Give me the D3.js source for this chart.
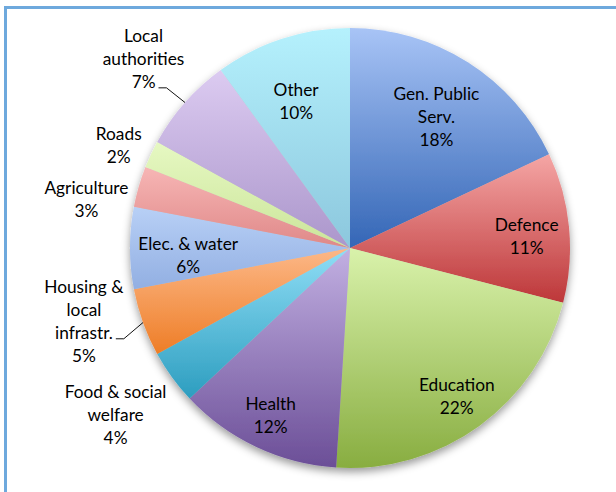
<!DOCTYPE html>
<html>
<head>
<meta charset="utf-8">
<script src="https://cdn.jsdelivr.net/npm/d3@7"></script>
<style>
  html, body { margin: 0; padding: 0; background: #ffffff; }
  svg { display: block; }
  text { font-family: Lato, "Open Sans", sans-serif; font-size: 17.3px; fill: #000000; }
</style>
</head>
<body>
<svg id="chart" width="616" height="492"></svg>
<script>
// Spending shares by function (percent of total)
const categories = ["Gen. Public Serv.", "Defence", "Education", "Health",
  "Food & social welfare", "Housing & local infrastr.", "Elec. & water",
  "Agriculture", "Roads", "Local authorities", "Other"];
const shares = [18, 11, 22, 12, 4, 5, 6, 3, 2, 7, 10];
const labelLines = [["Gen. Public", "Serv."], ["Defence"], ["Education"], ["Health"],
  ["Food & social", "welfare"], ["Housing &", "local", "infrastr."], ["Elec. & water"],
  ["Agriculture"], ["Roads"], ["Local", "authorities"], ["Other"]];

// Gradient stops for each slice: light at the top, deeper at the bottom
const topColors = ["#a8c4f6", "#f5a6a5", "#d9f2ab", "#c2b0e2", "#90def6", "#fcb888",
  "#b8d0f6", "#f7b6b5", "#e6f8c2", "#dccbf1", "#b5f1fd"];
const bottomColors = ["#3466b6", "#bd3739", "#88ad40", "#6b4e97", "#2c9dbf", "#ee7d26",
  "#92afe2", "#df8888", "#cbe59a", "#ab96cb", "#8cc7dd"];

// Label placement: distance from the centre and angular shift (degrees) off the slice bisector
const labelRadius = [157, 177, 183, 185, 288, 276, 162, 268, 253, 280, 156];
const labelShift = [1, 1.7, 0.3, 0.2, 0.5, 4.4, -2.8, -5.8, -1.3, 1.1, -2.2];
// Slices whose label is tied to the rim by a leader line, and the text line it starts from
const leaderFrom = { 5: 2, 9: 2 };

const width = 616, height = 492;
const cx = 350, cy = 248, radius = 220;
const lineHeight = 23;

const svg = d3.select("#chart");
const defs = svg.append("defs");

// Frame around the chart area
svg.append("rect")
  .attr("x", 5.5).attr("y", 7.5)
  .attr("width", width + 20).attr("height", height + 20)
  .attr("fill", "none")
  .attr("stroke", "#6ea9dd")
  .attr("stroke-width", 3);

const shadow = defs.append("filter").attr("id", "pieShadow")
  .attr("x", "-10%").attr("y", "-10%").attr("width", "120%").attr("height", "125%");
shadow.append("feDropShadow")
  .attr("dx", 0).attr("dy", 4).attr("stdDeviation", 4)
  .attr("flood-color", "#000").attr("flood-opacity", 0.4);

categories.forEach((c, i) => {
  const g = defs.append("linearGradient").attr("id", "grad" + i)
    .attr("x1", 0).attr("y1", 0).attr("x2", 0).attr("y2", 1);
  g.append("stop").attr("offset", "0%").attr("stop-color", topColors[i]);
  g.append("stop").attr("offset", "100%").attr("stop-color", bottomColors[i]);
});

const data = categories.map((c, i) => ({ i, name: c, value: shares[i] }));
const pie = d3.pie().sort(null).value(d => d.value);
const arcs = pie(data);

const arc = d3.arc().innerRadius(0).outerRadius(radius);
const rim = d3.arc().innerRadius(radius).outerRadius(radius);

const root = svg.append("g").attr("transform", `translate(${cx},${cy})`);

root.append("g")
  .attr("filter", "url(#pieShadow)")
  .selectAll("path")
  .data(arcs)
  .join("path")
  .attr("d", arc)
  .attr("fill", d => `url(#grad${d.data.i})`);

// Labels
const labels = root.append("g");
arcs.forEach(d => {
  const i = d.data.i;
  const mid = (d.startAngle + d.endAngle) / 2 + labelShift[i] * Math.PI / 180;
  const lx = Math.sin(mid) * labelRadius[i];
  const ly = -Math.cos(mid) * labelRadius[i];
  const lines = labelLines[i].concat([d3.format(".0f")(d.value) + "%"]);
  const y0 = ly - (lines.length - 1) * lineHeight / 2;
  const t = labels.append("text").attr("text-anchor", "middle");
  const spans = lines.map((s, k) =>
    t.append("tspan").attr("x", lx).attr("y", y0 + k * lineHeight).attr("dy", "0.35em").text(s));

  if (leaderFrom[i] !== undefined) {
    const k = leaderFrom[i];
    const lineNode = spans[k].node();
    const w = lineNode.getComputedTextLength();
    const sx = lx + w / 2 + 3;
    const sy = y0 + k * lineHeight + 6;
    const edge = rim.centroid(d);
    root.append("path")
      .attr("d", d3.line()([[sx, sy], [sx + 8, sy], edge]))
      .attr("fill", "none")
      .attr("stroke", "#111")
      .attr("stroke-width", 1);
  }
});
</script>
</body>
</html>
